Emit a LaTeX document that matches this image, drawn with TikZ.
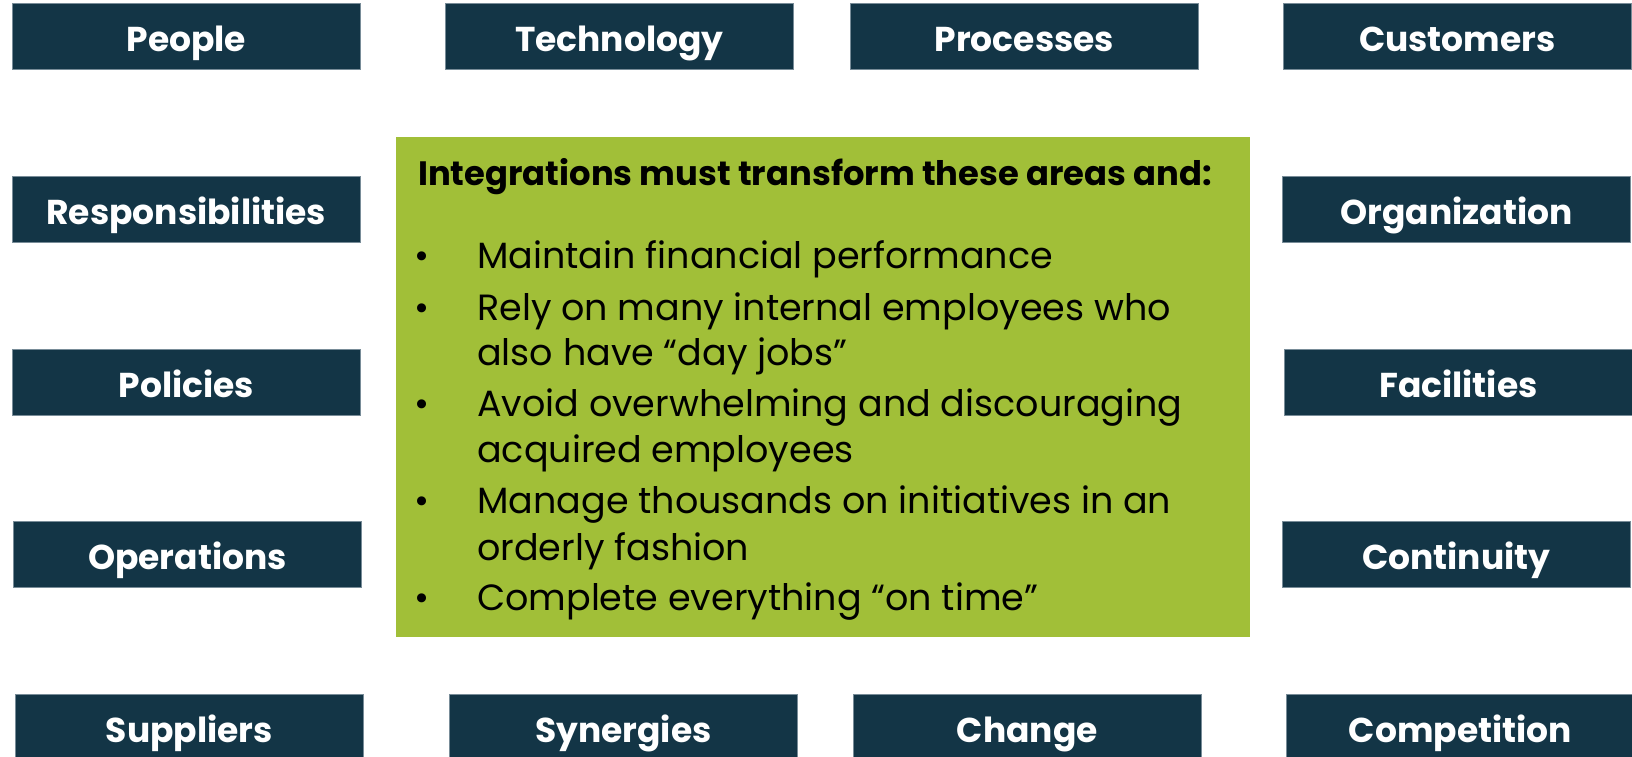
\documentclass[tikz,border=0pt]{standalone}
\usepackage{fontspec}
\setmainfont{Poppins}
\definecolor{navy}{RGB}{19,53,70}
\definecolor{navyedge}{RGB}{120,140,152}
\definecolor{leaf}{RGB}{161,191,56}
\begin{document}
\begin{tikzpicture}[x=1pt,y=-1pt,
  tag/.style={fill=navy, draw=navyedge, line width=0.7pt, anchor=north west,
    minimum width=348pt, minimum height=66pt, inner sep=0pt, text=white,
    font=\fontsize{34.5}{40}\selectfont\bfseries, text height=30pt, text depth=0pt},
  panel/.style={fill=leaf, draw=none, anchor=north west, inner sep=0pt},
  headline/.style={anchor=base west, inner sep=0pt, font=\fontsize{33.8}{38}\selectfont\bfseries},
  itemline/.style={anchor=base west, inner sep=0pt, font=\fontsize{36.5}{42}\selectfont},
  dot/.style={anchor=base, inner sep=0pt, font=\fontsize{36.5}{42}\selectfont}]
\useasboundingbox (0,0) rectangle (1632,756);

% top row
\node[tag] (people) at (12,3)   {People};
\node[tag] (tech)   at (445,3)  {Technology};
\node[tag] (proc)   at (850,3)  {Processes};
\node[tag] (cust)   at (1283,3) {Customers};
% left column
\node[tag] (resp) at (12,176) {Responsibilities};
\node[tag] (pol)  at (12,349) {Policies};
\node[tag] (ops)  at (13,521) {Operations};
% right column
\node[tag] (org)  at (1282,176) {Organization};
\node[tag] (fac)  at (1284,349) {Facilities};
\node[tag] (cont) at (1282,521) {Continuity};
% bottom row
\node[tag] (supp) at (15,694)   {Suppliers};
\node[tag] (syn)  at (449,694)  {Synergies};
\node[tag] (chg)  at (853,694)  {Change};
\node[tag] (comp) at (1286,694) {Competition};

% central panel
\node[panel, minimum width=854pt, minimum height=500pt] (box) at (396,137) {};
\node[headline] (head) at (418,185) {Integrations must transform these areas and:};

\node[dot] (b1) at (422,268) {\textbullet};
\node[dot] (b2) at (422,320) {\textbullet};
\node[dot] (b3) at (422,416) {\textbullet};
\node[dot] (b4) at (422,513) {\textbullet};
\node[dot] (b5) at (422,610) {\textbullet};

\node[itemline] (l1) at (477,268) {Maintain financial performance};
\node[itemline] (l2) at (477,320) {Rely on many internal employees who};
\node[itemline] (l3) at (477,365) {also have “day jobs”};
\node[itemline] (l4) at (477,416) {Avoid overwhelming and discouraging};
\node[itemline] (l5) at (477,462) {acquired employees};
\node[itemline] (l6) at (477,513) {Manage thousands on initiatives in an};
\node[itemline] (l7) at (477,560) {orderly fashion};
\node[itemline] (l8) at (477,610) {Complete everything “on time”};
\end{tikzpicture}
\end{document}
